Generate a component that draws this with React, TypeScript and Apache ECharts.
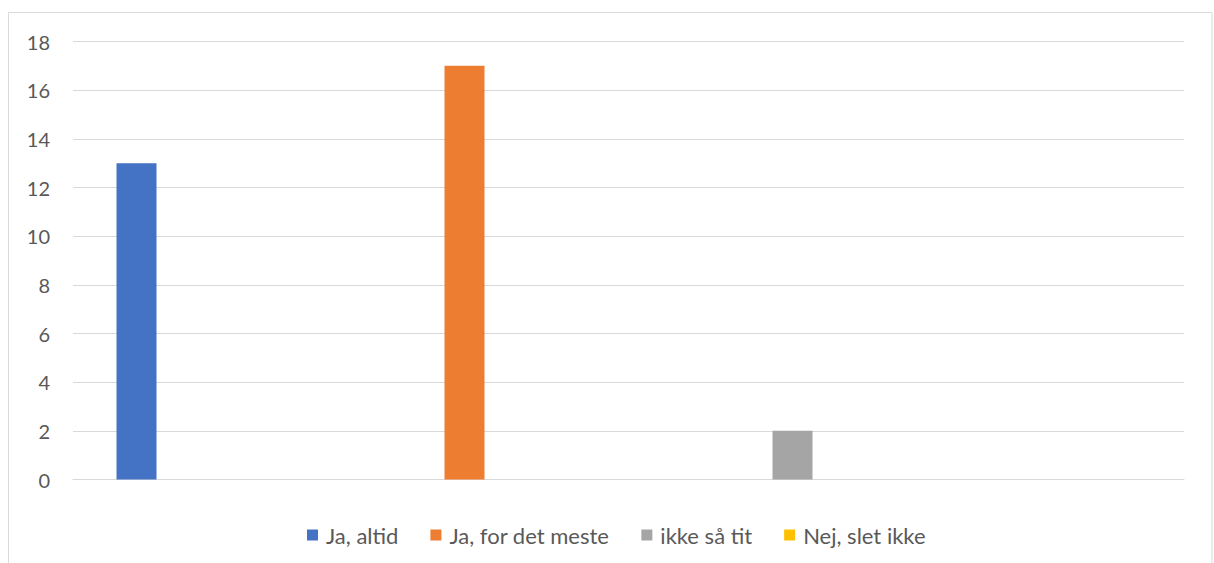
import React, { useEffect, useRef } from "react";
import * as echarts from "echarts";

const categories = [""];
const seriesNames = ["Ja, altid", "Ja, for det meste", "ikke så tit", "Nej, slet ikke"];
const seriesValues = [13, 17, 2, 0];
const seriesColors = ["#4472C4", "#ED7D31", "#A5A5A5", "#FFC000"];
const yTicks = { min: 0, max: 18, interval: 2 };

export default function App() {
  const ref = useRef<HTMLDivElement>(null);
  useEffect(() => {
    document.body.style.margin = "0";
    const chart = echarts.init(ref.current!, null, { renderer: "svg" });
    const font = "Lato, 'Open Sans', sans-serif";
    chart.setOption({
      animation: false,
      backgroundColor: "#ffffff",
      graphic: [
        {
          type: "rect",
          shape: { x: 8.5, y: 12.5, width: 1203.5, height: 620 },
          style: { fill: "none", stroke: "#D9D9D9", lineWidth: 1 },
          silent: true,
        },
      ],
      grid: { left: 73, right: 30, top: 41.5, bottom: 83.5 },
      legend: {
        data: seriesNames,
        top: 519,
        left: 302,
        padding: 5,
        icon: "rect",
        itemWidth: 11,
        itemHeight: 11,
        itemGap: 32,
        textStyle: { color: "#595959", fontSize: 22, fontFamily: font, padding: [0, 0, 0, 3] },
      },
      xAxis: {
        type: "category",
        data: categories,
        axisLine: { show: true, lineStyle: { color: "#D9D9D9", width: 1 } },
        axisTick: { show: false },
        axisLabel: { show: false },
      },
      yAxis: {
        type: "value",
        min: yTicks.min,
        max: yTicks.max,
        interval: yTicks.interval,
        axisLine: { show: false },
        axisTick: { show: false },
        splitLine: { lineStyle: { color: "#D9D9D9", width: 1 } },
        axisLabel: { color: "#595959", fontSize: 20, fontFamily: font, margin: 23 },
      },
      series: seriesNames.map((name, i) => ({
        name,
        type: "bar",
        data: [seriesValues[i]],
        barWidth: 40,
        barGap: "720%",
        itemStyle: { color: seriesColors[i] },
      })),
    });
    return () => chart.dispose();
  }, []);
  return <div ref={ref} style={{ width: 1214, height: 563 }} />;
}
